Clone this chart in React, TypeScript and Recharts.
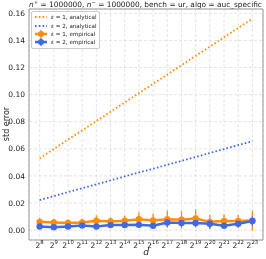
import React from 'react'
import {
  ComposedChart,
  Line,
  XAxis,
  YAxis,
  CartesianGrid,
  ErrorBar,
  ReferenceArea,
} from 'recharts'

const exponents = [8, 9, 10, 11, 12, 13, 14, 15, 16, 17, 18, 19, 20, 21, 22, 23]
const yTicks = [0, 0.02, 0.04, 0.06, 0.08, 0.1, 0.12, 0.14, 0.16]

const analytical1 = [0.053, 0.0599, 0.0668, 0.0736, 0.0805, 0.0874, 0.0942, 0.1011, 0.108, 0.1148, 0.1217, 0.1286, 0.1354, 0.1423, 0.1492, 0.156]
const analytical2 = [0.0222, 0.0251, 0.028, 0.0309, 0.0338, 0.0367, 0.0396, 0.0425, 0.0453, 0.0482, 0.0511, 0.054, 0.0569, 0.0598, 0.0627, 0.0656]
const empirical1 = [0.0061, 0.0056, 0.0052, 0.0056, 0.0069, 0.0064, 0.0069, 0.0081, 0.0071, 0.0081, 0.0076, 0.0086, 0.0061, 0.0067, 0.0067, 0.0071]
const empirical1Err = [0.003, 0.0027, 0.0026, 0.003, 0.004, 0.003, 0.0037, 0.005, 0.0052, 0.0064, 0.0064, 0.0067, 0.005, 0.005, 0.0045, 0.0072]
const empirical2 = [0.0027, 0.0022, 0.0027, 0.0034, 0.0027, 0.0037, 0.0037, 0.0039, 0.0032, 0.0056, 0.0052, 0.0052, 0.0047, 0.0032, 0.0047, 0.0067]
const empirical2Err = [0.0015, 0.0015, 0.0015, 0.0018, 0.0015, 0.0018, 0.0018, 0.002, 0.0018, 0.0032, 0.0026, 0.0026, 0.0037, 0.0015, 0.003, 0.0035]

const ORANGE = '#ff8c0f'
const BLUE = '#4169e1'
const FONT = '"DejaVu Sans", sans-serif'

const data = exponents.map((e, i) => ({
  e,
  a1: analytical1[i],
  a2: analytical2[i],
  m1: empirical1[i],
  m1err: empirical1Err[i],
  m2: empirical2[i],
  m2err: empirical2Err[i],
}))

function PowTick(props: any) {
  const { x, y, payload } = props
  return (
    <text x={x} y={y + 7.5} textAnchor="middle" fontSize={7.5} fill="#222" fontFamily={FONT}>
      <tspan>2</tspan>
      <tspan dy={-3.2} fontSize={5.3}>{payload.value}</tspan>
    </text>
  )
}

function LegendRow({ color, dotted, label }: { color: string; dotted: boolean; label: string }) {
  return (
    <div style={{ display: 'flex', alignItems: 'center', height: 8.4, whiteSpace: 'nowrap' }}>
      <svg width={14} height={8} style={{ marginRight: 3, flexShrink: 0 }}>
        {dotted ? (
          <line x1={1} y1={4} x2={13} y2={4} stroke={color} strokeWidth={1.8} strokeDasharray="1.6 2.2" />
        ) : (
          <g>
            <line x1={1} y1={4} x2={13} y2={4} stroke={color} strokeWidth={2.5} />
            <line x1={7} y1={0} x2={7} y2={8} stroke={color} strokeWidth={1.3} />
            <circle cx={7} cy={4} r={3} fill={color} />
          </g>
        )}
      </svg>
      <span style={{ whiteSpace: 'nowrap' }}>
        <i>ε</i> = {label}
      </span>
    </div>
  )
}

export default function App() {
  return (
    <div style={{ position: 'fixed', left: 0, top: 0, width: 266, height: 259, background: '#fff', fontFamily: FONT }}>
      <div
        style={{
          position: 'absolute',
          left: 0,
          width: 291,
          top: -3,
          textAlign: 'center',
          fontSize: 7.4,
          color: '#222',
          whiteSpace: 'nowrap',
          lineHeight: '10px',
        }}
      >
        <i>n</i>
        <sup style={{ fontSize: 5.3 }}>+</sup> = 1000000, <i>n</i>
        <sup style={{ fontSize: 5.3 }}>−</sup> = 1000000, bench = ur, algo = auc_specific
      </div>
      <ComposedChart width={266} height={259} data={data} margin={{ top: 9, right: 3, left: 0, bottom: 0 }}>
        <CartesianGrid stroke="#dddddd" strokeDasharray="3 2" strokeWidth={0.8} />
        <XAxis
          dataKey="e"
          type="number"
          domain={[7.25, 23.75]}
          ticks={exponents}
          allowDataOverflow
          height={19}
          tick={<PowTick />}
          tickLine={false}
          axisLine={false}
          tickSize={0}
          tickMargin={0}
          interval={0}
          label={{
            content: () => (
              <text x={146} y={255} textAnchor="middle" fontSize={9} fontStyle="italic" fill="#222" fontFamily={FONT}>
                d
              </text>
            ),
          }}
        />
        <YAxis
          type="number"
          domain={[-0.0073, 0.1632]}
          ticks={yTicks}
          allowDataOverflow
          width={29}
          tickFormatter={(v: number) => v.toFixed(2)}
          tick={{ fontSize: 7.5, fill: '#222', fontFamily: FONT }}
          tickLine={false}
          axisLine={false}
          tickSize={2}
          tickMargin={2}
          interval={0}
          label={{
            content: () => (
              <text
                x={9}
                y={124}
                transform="rotate(-90 9 124)"
                textAnchor="middle"
                fontSize={8}
                fill="#222"
                fontFamily={FONT}
              >
                std error
              </text>
            ),
          }}
        />
        <ReferenceArea x1={7.25} x2={23.75} y1={-0.0073} y2={0.1632} fill="none" stroke="#999" strokeWidth={1} ifOverflow="visible" />
        <Line dataKey="a1" stroke={ORANGE} strokeWidth={1.8} strokeDasharray="1.6 2.2" dot={false} isAnimationActive={false} />
        <Line dataKey="a2" stroke={BLUE} strokeWidth={1.8} strokeDasharray="1.6 2.2" dot={false} isAnimationActive={false} />
        <Line
          dataKey="m1"
          stroke={ORANGE}
          strokeWidth={2.5}
          dot={{ r: 3.2, fill: ORANGE, stroke: 'none' }}
          isAnimationActive={false}
        >
          <ErrorBar dataKey="m1err" direction="y" width={0} stroke={ORANGE} strokeWidth={1.3} isAnimationActive={false} />
        </Line>
        <Line
          dataKey="m2"
          stroke={BLUE}
          strokeWidth={2.5}
          dot={{ r: 3.2, fill: BLUE, stroke: 'none' }}
          isAnimationActive={false}
        >
          <ErrorBar dataKey="m2err" direction="y" width={0} stroke={BLUE} strokeWidth={1.3} isAnimationActive={false} />
        </Line>
      </ComposedChart>
      <div
        style={{
          position: 'absolute',
          left: 31,
          top: 11,
          padding: '1px 3px 1px 2px',
          background: 'rgba(255,255,255,0.85)',
          border: '0.8px solid #ccc',
          borderRadius: 2,
          fontSize: 5.6,
          color: '#222',
          lineHeight: '8px',
          whiteSpace: 'nowrap',
        }}
      >
        <LegendRow color={ORANGE} dotted label="1, analytical" />
        <LegendRow color={BLUE} dotted label="2, analytical" />
        <LegendRow color={ORANGE} dotted={false} label="1, empirical" />
        <LegendRow color={BLUE} dotted={false} label="2, empirical" />
      </div>
    </div>
  )
}
